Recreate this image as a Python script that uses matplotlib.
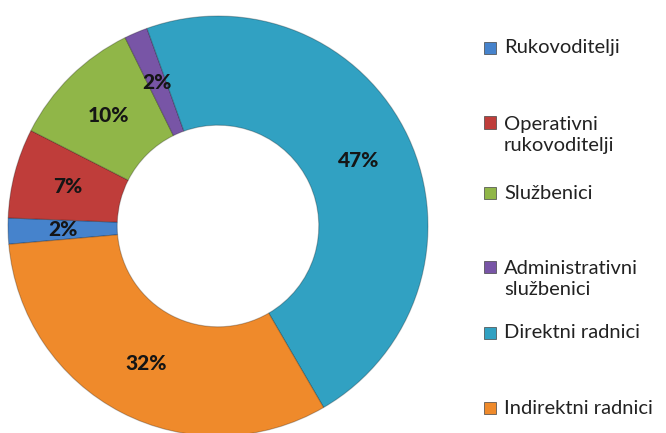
import matplotlib
matplotlib.use('Agg')
import matplotlib.pyplot as plt
from matplotlib.patches import Rectangle

# data: shares of employees per category (percent)
categories = ['Rukovoditelji', 'Operativni\nrukovoditelji', 'Službenici',
              'Administrativni\nslužbenici', 'Direktni radnici', 'Indirektni radnici']
shares = [2.0, 6.9, 10.2, 1.8, 47.1, 32.0]
colors = ['#4683CC', '#BF3D3A', '#90B648', '#7855A6', '#31A1C2', '#EF8A2B']
legend_y = [48, 135, 193, 279, 333, 408]   # legend entry centres, pixels from top

W, H = 666, 433
fig = plt.figure(figsize=(W / 100, H / 100), dpi=100)
plt.rcParams['font.family'] = ['Lato', 'DejaVu Sans']

# donut: centre (218, 226) px, outer radius 210 px
cx, cy, r = 218, 226, 210
ax = fig.add_axes([(cx - r) / W, (H - cy - r) / H, 2 * r / W, 2 * r / H])
wedges, texts, autotexts = ax.pie(
    shares, colors=colors, startangle=185, counterclock=False,
    autopct='%.0f%%', pctdistance=0.74,
    wedgeprops=dict(width=0.52, edgecolor=(0, 0, 0, 0.25), linewidth=0.8),
    textprops=dict(fontsize=15, fontweight='black', color='#151515'))
ax.set_xlim(-1, 1)
ax.set_ylim(-1, 1)
ax.set_aspect('auto')
ax.axis('off')

# legend drawn by hand to keep Excel's uneven spacing
for lab, col, y in zip(categories, colors, legend_y):
    n = lab.count('\n') + 1
    top = y - (n - 1) * 12.5
    fig.patches.append(Rectangle((484 / W, (H - top - 6) / H), 12 / W, 12 / H,
                                 transform=fig.transFigure, facecolor=col,
                                 edgecolor='#444444', linewidth=0.5))
    fig.text(504 / W, (H - y) / H, lab, fontsize=14.5, color='#222222',
             va='center', ha='left', linespacing=1.3)

fig.savefig('out.png', dpi=100)
